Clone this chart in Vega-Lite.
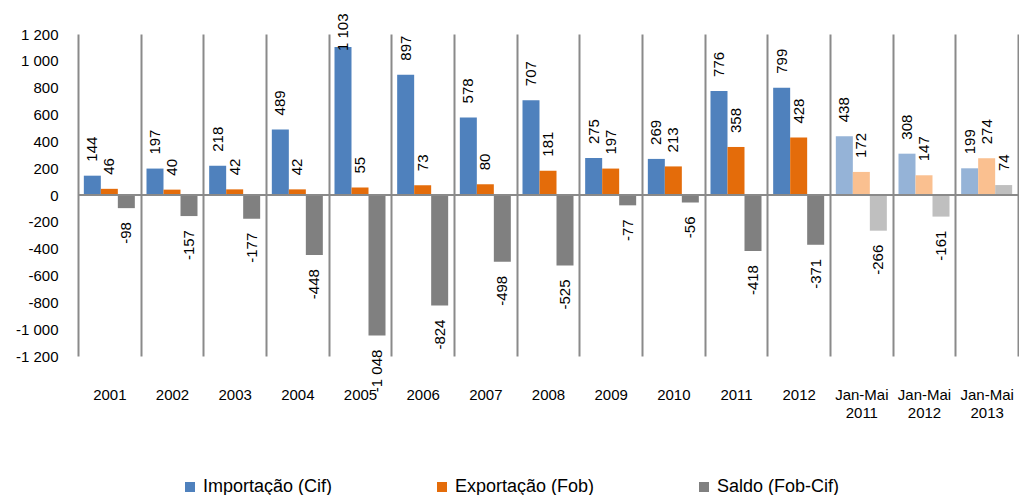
{
  "$schema": "https://vega.github.io/schema/vega-lite/v6.json",
  "width": 940,
  "height": 322,
  "autosize": "none",
  "padding": {"left": 78, "top": 34, "right": 1, "bottom": 139},
  "config": {
    "font": "Liberation Sans",
    "view": {"stroke": null},
    "locale": {"number": {"decimal": ",", "thousands": " ", "grouping": [3], "currency": ["", ""], "minus": "-"}}
  },
  "data": {
    "values": [
      {"periodo": "2001", "tipo": "ano", "serie": "Importação (Cif)", "valor": 144},
      {"periodo": "2001", "tipo": "ano", "serie": "Exportação (Fob)", "valor": 46},
      {"periodo": "2001", "tipo": "ano", "serie": "Saldo (Fob-Cif)", "valor": -98},
      {"periodo": "2002", "tipo": "ano", "serie": "Importação (Cif)", "valor": 197},
      {"periodo": "2002", "tipo": "ano", "serie": "Exportação (Fob)", "valor": 40},
      {"periodo": "2002", "tipo": "ano", "serie": "Saldo (Fob-Cif)", "valor": -157},
      {"periodo": "2003", "tipo": "ano", "serie": "Importação (Cif)", "valor": 218},
      {"periodo": "2003", "tipo": "ano", "serie": "Exportação (Fob)", "valor": 42},
      {"periodo": "2003", "tipo": "ano", "serie": "Saldo (Fob-Cif)", "valor": -177},
      {"periodo": "2004", "tipo": "ano", "serie": "Importação (Cif)", "valor": 489},
      {"periodo": "2004", "tipo": "ano", "serie": "Exportação (Fob)", "valor": 42},
      {"periodo": "2004", "tipo": "ano", "serie": "Saldo (Fob-Cif)", "valor": -448},
      {"periodo": "2005", "tipo": "ano", "serie": "Importação (Cif)", "valor": 1103},
      {"periodo": "2005", "tipo": "ano", "serie": "Exportação (Fob)", "valor": 55},
      {"periodo": "2005", "tipo": "ano", "serie": "Saldo (Fob-Cif)", "valor": -1048},
      {"periodo": "2006", "tipo": "ano", "serie": "Importação (Cif)", "valor": 897},
      {"periodo": "2006", "tipo": "ano", "serie": "Exportação (Fob)", "valor": 73},
      {"periodo": "2006", "tipo": "ano", "serie": "Saldo (Fob-Cif)", "valor": -824},
      {"periodo": "2007", "tipo": "ano", "serie": "Importação (Cif)", "valor": 578},
      {"periodo": "2007", "tipo": "ano", "serie": "Exportação (Fob)", "valor": 80},
      {"periodo": "2007", "tipo": "ano", "serie": "Saldo (Fob-Cif)", "valor": -498},
      {"periodo": "2008", "tipo": "ano", "serie": "Importação (Cif)", "valor": 707},
      {"periodo": "2008", "tipo": "ano", "serie": "Exportação (Fob)", "valor": 181},
      {"periodo": "2008", "tipo": "ano", "serie": "Saldo (Fob-Cif)", "valor": -525},
      {"periodo": "2009", "tipo": "ano", "serie": "Importação (Cif)", "valor": 275},
      {"periodo": "2009", "tipo": "ano", "serie": "Exportação (Fob)", "valor": 197},
      {"periodo": "2009", "tipo": "ano", "serie": "Saldo (Fob-Cif)", "valor": -77},
      {"periodo": "2010", "tipo": "ano", "serie": "Importação (Cif)", "valor": 269},
      {"periodo": "2010", "tipo": "ano", "serie": "Exportação (Fob)", "valor": 213},
      {"periodo": "2010", "tipo": "ano", "serie": "Saldo (Fob-Cif)", "valor": -56},
      {"periodo": "2011", "tipo": "ano", "serie": "Importação (Cif)", "valor": 776},
      {"periodo": "2011", "tipo": "ano", "serie": "Exportação (Fob)", "valor": 358},
      {"periodo": "2011", "tipo": "ano", "serie": "Saldo (Fob-Cif)", "valor": -418},
      {"periodo": "2012", "tipo": "ano", "serie": "Importação (Cif)", "valor": 799},
      {"periodo": "2012", "tipo": "ano", "serie": "Exportação (Fob)", "valor": 428},
      {"periodo": "2012", "tipo": "ano", "serie": "Saldo (Fob-Cif)", "valor": -371},
      {"periodo": "Jan-Mai 2011", "tipo": "parcial", "serie": "Importação (Cif)", "valor": 438},
      {"periodo": "Jan-Mai 2011", "tipo": "parcial", "serie": "Exportação (Fob)", "valor": 172},
      {"periodo": "Jan-Mai 2011", "tipo": "parcial", "serie": "Saldo (Fob-Cif)", "valor": -266},
      {"periodo": "Jan-Mai 2012", "tipo": "parcial", "serie": "Importação (Cif)", "valor": 308},
      {"periodo": "Jan-Mai 2012", "tipo": "parcial", "serie": "Exportação (Fob)", "valor": 147},
      {"periodo": "Jan-Mai 2012", "tipo": "parcial", "serie": "Saldo (Fob-Cif)", "valor": -161},
      {"periodo": "Jan-Mai 2013", "tipo": "parcial", "serie": "Importação (Cif)", "valor": 199},
      {"periodo": "Jan-Mai 2013", "tipo": "parcial", "serie": "Exportação (Fob)", "valor": 274},
      {"periodo": "Jan-Mai 2013", "tipo": "parcial", "serie": "Saldo (Fob-Cif)", "valor": 74}
    ]
  },
  "encoding": {
    "x": {
      "field": "periodo",
      "type": "nominal",
      "sort": null,
      "scale": {"paddingInner": 0, "paddingOuter": 0},
      "axis": {
        "title": null,
        "labelAngle": 0,
        "labelFontSize": 15,
        "labelColor": "#000000",
        "labelPadding": 31,
        "labelLineHeight": 18,
        "labelExpr": "split(datum.label, ' ')",
        "tickBand": "extent",
        "ticks": false,
        "domain": false,
        "grid": true,
        "gridColor": "#8A8A8A",
        "gridWidth": 2
      }
    },
    "xOffset": {
      "field": "serie",
      "type": "nominal",
      "sort": ["Importação (Cif)", "Exportação (Fob)", "Saldo (Fob-Cif)"],
      "scale": {"paddingInner": 0, "paddingOuter": 0.343}
    },
    "y": {
      "field": "valor",
      "type": "quantitative",
      "scale": {"domain": [-1200, 1200], "nice": false, "zero": false},
      "axis": {
        "title": null,
        "values": [-1200, -1000, -800, -600, -400, -200, 0, 200, 400, 600, 800, 1000, 1200],
        "format": ",d",
        "labelFontSize": 15,
        "labelColor": "#000000",
        "labelPadding": 20,
        "ticks": false,
        "domain": false,
        "grid": false
      }
    }
  },
  "layer": [
    {
      "transform": [{"filter": "datum.tipo == 'ano'"}],
      "mark": {"type": "bar"},
      "encoding": {
        "color": {
          "field": "serie",
          "type": "nominal",
          "sort": ["Importação (Cif)", "Exportação (Fob)", "Saldo (Fob-Cif)"],
          "scale": {"domain": ["Importação (Cif)", "Exportação (Fob)", "Saldo (Fob-Cif)"], "range": ["#4F81BD", "#E46C0A", "#808080"]},
          "legend": {
            "title": null,
            "orient": "none",
            "legendX": 103,
            "legendY": 444,
            "direction": "horizontal",
            "columns": 3,
            "columnPadding": 100,
            "padding": 0,
            "symbolType": "square",
            "symbolSize": 100,
            "symbolStrokeWidth": 0,
            "labelFontSize": 18,
            "labelColor": "#000000",
            "labelOffset": 4,
            "labelLimit": 400
          }
        }
      }
    },
    {
      "transform": [{"filter": "datum.tipo == 'parcial'"}],
      "mark": {"type": "bar"},
      "encoding": {
        "color": {
          "field": "serie",
          "type": "nominal",
          "scale": {"domain": ["Importação (Cif)", "Exportação (Fob)", "Saldo (Fob-Cif)"], "range": ["#95B3D7", "#FAC090", "#BFBFBF"]},
          "legend": null
        }
      }
    },
    {
      "mark": {"type": "rule", "color": "#8A8A8A", "strokeWidth": 2},
      "encoding": {"y": {"datum": 0}, "x": null, "xOffset": null}
    },
    {
      "transform": [{"filter": "datum.valor >= 0"}],
      "mark": {"type": "text", "angle": 270, "align": "left", "baseline": "middle", "dx": {"expr": "datum.valor > 1000 ? -4 : 14"}, "fontSize": 15, "color": "#000000"},
      "encoding": {"text": {"field": "valor", "type": "quantitative", "format": ",d"}}
    },
    {
      "transform": [{"filter": "datum.valor < 0"}],
      "mark": {"type": "text", "angle": 270, "align": "right", "baseline": "middle", "dx": -14, "fontSize": 15, "color": "#000000"},
      "encoding": {"text": {"field": "valor", "type": "quantitative", "format": ",d"}}
    }
  ],
  "resolve": {"scale": {"color": "independent"}}
}
